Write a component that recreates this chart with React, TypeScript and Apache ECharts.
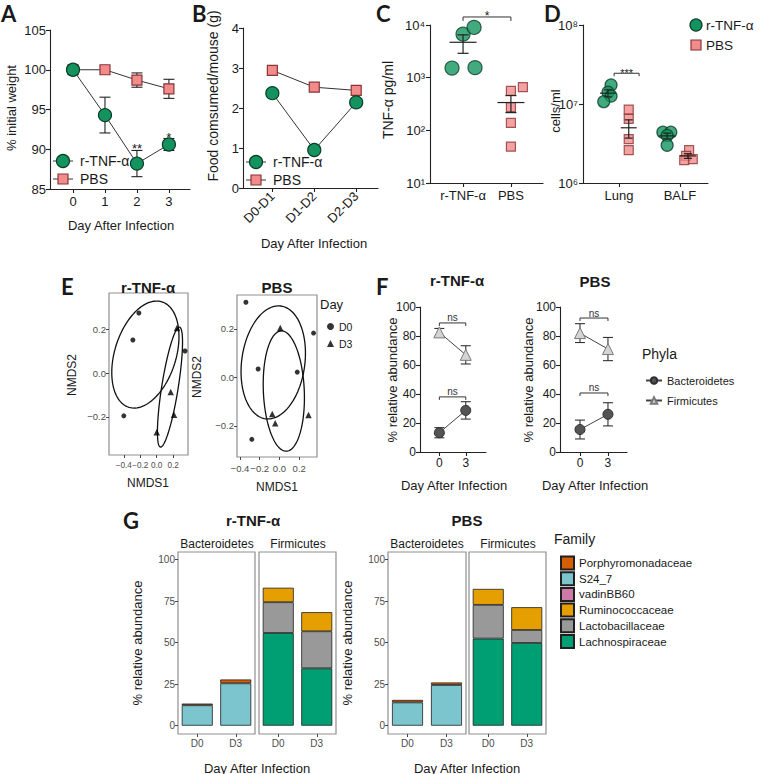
import React, { useEffect, useRef } from 'react';
import * as echarts from 'echarts';

const FONT = "'Liberation Sans', Arial, Helvetica, 'DejaVu Sans', sans-serif";
const LETTER_FONT = "Lato, 'Open Sans', sans-serif";
const GREEN = '#14935f';
const GREEN_EDGE = '#0a3d28';
const PINK = '#f28b8b';
const PINK_EDGE = '#8a3434';
const INK = '#1a1a1a';

// ---------- Panel A : % initial weight ----------
const aDays = [0, 1, 2, 3];
const aTnfMean = [100, 94.3, 88.2, 90.6];
const aTnfSem = [0, 2.25, 1.65, 0.75];
const aPbsMean = [100, 100, 98.7, 97.6];
const aPbsSem = [0, 0, 0.9, 1.2];
const aStars = ['', '', '**', '*'];

// ---------- Panel B : food consumed ----------
const bPeriods = ['D0-D1', 'D1-D2', 'D2-D3'];
const bTnf = [2.37, 0.95, 2.14];
const bPbs = [2.94, 2.52, 2.44];

// ---------- Panel C : TNF-a pg/ml ----------
const cGroups = ['r-TNF-α', 'PBS'];
const cTnfPoints = [[-0.23, 1520], [0.25, 1550], [0, 6700], [0.23, 9000]];
const cPbsPoints = [[1, 560], [1.25, 660], [1, 277], [1, 138], [1, 49]];
const cMeans = [4700, 337];
const cSems = [1800, 120];
const cSig = [[0, 1, 14200]];
const cSigLabels = ['*'];

// ---------- Panel D : cells/ml ----------
const dSites = ['Lung', 'BALF'];
const dTnfPoints = [[-0.13, 1.74e7], [-0.18, 1.41e7], [-0.13, 1.26e7], [-0.25, 1.07e7], [0.72, 4.4e6], [0.85, 4.4e6], [0.79, 4.0e6], [0.79, 3.0e6]];
const dPbsPoints = [[0.16, 8.5e6], [0.16, 6.5e6], [0.16, 3.6e6], [0.16, 2.6e6], [1.15, 2.6e6], [1.1, 2.2e6], [1.21, 2.0e6], [1.07, 1.95e6]];
const dTnfPos = [-0.18, 0.79];
const dTnfMeans = [1.37e7, 3.95e6];
const dTnfSems = [1.4e6, 3.3e5];
const dPbsPos = [0.16, 1.13];
const dPbsMeans = [5.0e6, 2.2e6];
const dPbsSems = [1.3e6, 1.5e5];
const dSig = [[-0.08, 0.33, 2.45e7]];
const dSigLabels = ['***'];

// ---------- Panel E : NMDS ----------
const eTnfD0 = [[-0.217, 0.273], [-0.29, 0.15], [0.344, 0.1], [-0.4, -0.195]];
const eTnfD3 = [[0.246, 0.205], [0.17, -0.086], [0.21, -0.19], [0.0, -0.27]];
const ePbsD0 = [[-0.34, 0.31], [0.345, 0.183], [-0.216, 0.035], [0.18, 0.022], [-0.28, -0.255]];
const ePbsD3 = [[0.008, 0.204], [-0.073, -0.151], [-0.043, -0.189], [0.294, -0.155]];
// ellipse: centre x, centre y, conjugate half-diameters u(x,y), v(x,y)
const eTnfEllipses = [[-0.138, 0.084, 0.2, 0.24, -0.356, 0.041], [0.161, -0.064, 0.116, 0.273, -0.099, 0.0058]];
const ePbsEllipses = [[-0.063, 0.062, 0.0765, 0.2326, -0.317, 0.0169], [0.044, -0.056, -0.0267, 0.248, -0.207, -0.0037]];
const eTicks = [-0.4, -0.2, 0, 0.2];
const eYTicks = [-0.2, 0, 0.2];

// ---------- Panel F : phyla ----------
const fDays = [0, 3];
const fTnfBact = [13.3, 28.7];
const fTnfBactSem = [3.5, 6];
const fTnfFirm = [82.5, 67];
const fTnfFirmSem = [2.7, 6.3];
const fPbsBact = [15.5, 26];
const fPbsBactSem = [6.5, 8];
const fPbsFirm = [82, 71];
const fPbsFirmSem = [6.5, 8];
const fTnfSig = [[0, 3, 89], [0, 3, 38]];
const fPbsSig = [[0, 3, 92.4], [0, 3, 40.7]];
const fSigLabels = ['ns', 'ns'];

// ---------- Panel G : family ----------
const gDays = ['D0', 'D3'];
const gFamilies = ['Porphyromonadaceae', 'S24_7', 'vadinBB60', 'Ruminococcaceae', 'Lactobacillaceae', 'Lachnospiraceae'];
const gColors = ['#d55e00', '#7cc5cf', '#cc79a7', '#e69f00', '#999999', '#009e73'];
const gTnfS24 = [12.3, 25.5];
const gTnfPorph = [1.0, 2.3];
const gTnfLachno = [55.8, 34.5];
const gTnfLacto = [18.5, 22.3];
const gTnfRumino = [8.7, 11.5];
const gPbsS24 = [14, 24.5];
const gPbsPorph = [1.5, 1.5];
const gPbsLachno = [52.4, 49.8];
const gPbsLacto = [20.3, 7.8];
const gPbsRumino = [9.6, 13.7];
const gVadin = [null, null];
const gYTicks = [0, 25, 50, 75, 100];

const SUP: Record<number, string> = { 0: '⁰', 1: '¹', 2: '²', 3: '³', 4: '⁴', 5: '⁵', 6: '⁶', 7: '⁷', 8: '⁸', 9: '⁹' };
const logFmt = (v: number) => '10' + SUP[Math.round(Math.log10(v))];
const ggNum = (v: number) => (v < -1e-9 ? '\u2212' : '') + Math.abs(v).toFixed(1);

const prismLine = { show: true, onZero: false, lineStyle: { color: '#222', width: 1.1 } };
const prismTick = (cv?: number[]) => ({ show: true, length: 4, lineStyle: { color: '#222', width: 1.1 }, ...(cv ? { customValues: cv } : {}) });
const prismLabel = (extra: any = {}) => ({ color: INK, fontSize: 13, fontFamily: FONT, margin: 5, ...extra });
const ggTick = (cv?: number[]) => ({ show: true, length: 3, lineStyle: { color: '#333', width: 0.9 }, ...(cv ? { customValues: cv } : {}) });
const ggLabel = (extra: any = {}) => ({ color: '#4d4d4d', fontSize: 9.5, fontFamily: FONT, margin: 3, hideOverlap: false, ...extra });
const noSplit = { show: false };

function errorBars(ai: number, data: number[][], cap: number, color = '#222', z = 1) {
  return {
    type: 'custom', xAxisIndex: ai, yAxisIndex: ai, data, silent: true, z,
    encode: { x: 0, y: [1, 2] },
    renderItem: (params: any, api: any) => {
      const x = api.value(0);
      const p1 = api.coord([x, api.value(1)]);
      const p2 = api.coord([x, api.value(2)]);
      const st = { stroke: color, lineWidth: 1.1 };
      return {
        type: 'group', children: [
          { type: 'line', shape: { x1: p1[0], y1: p1[1], x2: p2[0], y2: p2[1] }, style: st },
          { type: 'line', shape: { x1: p1[0] - cap, y1: p1[1], x2: p1[0] + cap, y2: p1[1] }, style: st },
          { type: 'line', shape: { x1: p2[0] - cap, y1: p2[1], x2: p2[0] + cap, y2: p2[1] }, style: st },
        ],
      };
    },
  };
}

function meanSem(ai: number, data: number[][], half: number, cap: number) {
  return {
    type: 'custom', xAxisIndex: ai, yAxisIndex: ai, data, silent: true, z: 6,
    encode: { x: 0, y: 1 },
    renderItem: (params: any, api: any) => {
      const x = api.value(0);
      const pm = api.coord([x, api.value(1)]);
      const pl = api.coord([x, api.value(2)]);
      const ph = api.coord([x, api.value(3)]);
      const st = { stroke: '#222', lineWidth: 1.2 };
      return {
        type: 'group', children: [
          { type: 'line', shape: { x1: pm[0] - half, y1: pm[1], x2: pm[0] + half, y2: pm[1] }, style: st },
          { type: 'line', shape: { x1: pl[0], y1: pl[1], x2: ph[0], y2: ph[1] }, style: st },
          { type: 'line', shape: { x1: pl[0] - cap, y1: pl[1], x2: pl[0] + cap, y2: pl[1] }, style: st },
          { type: 'line', shape: { x1: ph[0] - cap, y1: ph[1], x2: ph[0] + cap, y2: ph[1] }, style: st },
        ],
      };
    },
  };
}

function brackets(ai: number, data: number[][], labels: string[], o: any) {
  return {
    type: 'custom', xAxisIndex: ai, yAxisIndex: ai, data, silent: true, z: 6,
    encode: { x: 0, y: 2 },
    renderItem: (params: any, api: any) => {
      const y = api.value(2);
      const p1 = api.coord([api.value(0), y]);
      const p2 = api.coord([api.value(1), y]);
      const st = { stroke: o.color, lineWidth: o.lw };
      return {
        type: 'group', children: [
          { type: 'line', shape: { x1: p1[0], y1: p1[1], x2: p2[0], y2: p2[1] }, style: st },
          { type: 'line', shape: { x1: p1[0], y1: p1[1], x2: p1[0], y2: p1[1] + o.drop }, style: st },
          { type: 'line', shape: { x1: p2[0], y1: p2[1], x2: p2[0], y2: p2[1] + o.drop }, style: st },
          {
            type: 'text', x: (p1[0] + p2[0]) / 2, y: p1[1] - o.gap,
            style: { text: labels[params.dataIndex], fontSize: o.size, fontFamily: FONT, fill: o.textColor, textAlign: 'center', textVerticalAlign: 'bottom', align: 'center', verticalAlign: 'bottom' },
          },
        ],
      };
    },
  };
}

function starTexts(ai: number, data: number[][], labels: string[]) {
  return {
    type: 'custom', xAxisIndex: ai, yAxisIndex: ai, data, silent: true, z: 6,
    encode: { x: 0, y: 1 },
    renderItem: (params: any, api: any) => {
      const p = api.coord([api.value(0), api.value(1)]);
      return {
        type: 'text', x: p[0], y: p[1] + 5,
        style: { text: labels[params.dataIndex], fontSize: 13, fontFamily: FONT, fill: INK, textAlign: 'center', textVerticalAlign: 'bottom', align: 'center', verticalAlign: 'bottom' },
      };
    },
  };
}

// tick labels drawn at axis values (used where the axis would otherwise drop crowded labels)
function tickTexts(ai: number, values: number[], yValue: number, fmt: (v: number) => string, size: number) {
  return {
    type: 'custom', xAxisIndex: ai, yAxisIndex: ai, data: values.map((v) => [v, yValue]), silent: true, z: 6, clip: false,
    encode: { x: 0, y: 1 },
    renderItem: (params: any, api: any) => {
      const p = api.coord([api.value(0), api.value(1)]);
      return {
        type: 'text', x: p[0], y: p[1] + 6,
        style: { text: fmt(api.value(0)), fontSize: size, fontFamily: FONT, fill: '#4d4d4d', textAlign: 'center', textVerticalAlign: 'top', align: 'center', verticalAlign: 'top' },
      };
    },
  };
}

function ellipses(ai: number, data: number[][]) {
  return {
    type: 'custom', xAxisIndex: ai, yAxisIndex: ai, data, silent: true, z: 3,
    encode: { x: 0, y: 1 },
    renderItem: (params: any, api: any) => {
      const cx = api.value(0), cy = api.value(1), ux = api.value(2), uy = api.value(3), vx = api.value(4), vy = api.value(5);
      const pts: number[][] = [];
      const n = 120;
      for (let k = 0; k <= n; k++) {
        const t = (k / n) * Math.PI * 2;
        pts.push(api.coord([cx + ux * Math.cos(t) + vx * Math.sin(t), cy + uy * Math.cos(t) + vy * Math.sin(t)]));
      }
      return { type: 'polyline', shape: { points: pts }, style: { stroke: '#111', lineWidth: 1.3, fill: 'none' } };
    },
  };
}

function txt(text: string, x: number, y: number, size: number, o: any = {}) {
  return {
    type: 'text', x, y, rotation: o.rot ? Math.PI / 2 : 0, silent: true,
    style: {
      text, fontSize: size, fontFamily: o.font || FONT, fontWeight: o.bold ? 'bold' : 'normal', fill: o.color || INK,
      textAlign: o.align || 'center', textVerticalAlign: 'middle', align: o.align || 'center', verticalAlign: 'middle',
    },
  };
}

// small legend built from graphic primitives: marker (+ optional line) and label
function legendItem(kind: 'circle' | 'rect', cx: number, cy: number, size: number, withLine: boolean, label: string, textX: number, fontSize: number) {
  const fill = kind === 'circle' ? GREEN : PINK;
  const stroke = kind === 'circle' ? GREEN_EDGE : PINK_EDGE;
  const els: any[] = [];
  if (withLine) els.push({ type: 'line', silent: true, shape: { x1: cx - 10, y1: cy, x2: cx + 10, y2: cy }, style: { stroke: '#333', lineWidth: 1 } });
  if (kind === 'circle') els.push({ type: 'circle', silent: true, shape: { cx, cy, r: size / 2 }, style: { fill, stroke, lineWidth: 1.2 } });
  else els.push({ type: 'rect', silent: true, shape: { x: cx - size / 2, y: cy - size / 2, width: size, height: size }, style: { fill, stroke, lineWidth: 1.2 } });
  els.push(txt(label, textX, cy, fontSize, { align: 'left' }));
  return els;
}

function buildOption() {
  const ggGrid = { show: true, borderColor: '#8f8f8f', borderWidth: 1.2, backgroundColor: 'transparent', outerBoundsMode: 'none' };
  const pGrid = { outerBoundsMode: 'none' };
  const grid = [
    { left: 50, top: 30, width: 140, height: 159, ...pGrid },
    { left: 243, top: 28, width: 135, height: 160, ...pGrid },
    { left: 430, top: 25, width: 113, height: 158, ...pGrid },
    { left: 583, top: 25, width: 125, height: 158, ...pGrid },
    { left: 109, top: 293, width: 79, height: 162, ...ggGrid },
    { left: 237, top: 295, width: 80, height: 162, ...ggGrid },
    { left: 420, top: 307, width: 66, height: 145, ...pGrid },
    { left: 560, top: 307, width: 67, height: 145, ...pGrid },
    { left: 178, top: 552, width: 77, height: 182, ...ggGrid },
    { left: 259, top: 552, width: 77, height: 182, ...ggGrid },
    { left: 388, top: 552, width: 78, height: 182, ...ggGrid },
    { left: 469, top: 552, width: 77, height: 182, ...ggGrid },
  ];

  const xAxis: any[] = [
    { gridIndex: 0, type: 'value', min: -0.72, max: 3.66, axisLine: prismLine, axisTick: prismTick([0, 1, 2, 3]), axisLabel: prismLabel({ customValues: [0, 1, 2, 3], margin: 6 }), splitLine: noSplit },
    { gridIndex: 1, type: 'value', min: -0.7, max: 2.52, axisLine: prismLine, axisTick: prismTick([0, 1, 2]), axisLabel: prismLabel({ customValues: [0, 1, 2], rotate: 45, margin: 6, formatter: (v: number) => bPeriods[Math.round(v)] }), splitLine: noSplit },
    { gridIndex: 2, type: 'value', min: -0.69, max: 1.67, axisLine: prismLine, axisTick: prismTick([0, 1]), axisLabel: prismLabel({ customValues: [0, 1], margin: 6, formatter: (v: number) => cGroups[Math.round(v)] }), splitLine: noSplit },
    { gridIndex: 3, type: 'value', min: -0.59, max: 1.46, axisLine: prismLine, axisTick: prismTick([0, 1]), axisLabel: prismLabel({ customValues: [0, 1], margin: 6, formatter: (v: number) => dSites[Math.round(v)] }), splitLine: noSplit },
    { gridIndex: 4, type: 'value', min: -0.58, max: 0.38, axisLine: { show: false, onZero: false }, axisTick: ggTick(eTicks), axisLabel: { show: false }, splitLine: noSplit },
    { gridIndex: 5, type: 'value', min: -0.43, max: 0.38, axisLine: { show: false, onZero: false }, axisTick: ggTick(eTicks), axisLabel: { show: false }, splitLine: noSplit },
    { gridIndex: 6, type: 'value', min: -2.2, max: 5.3, axisLine: prismLine, axisTick: prismTick([0, 3]), axisLabel: prismLabel({ customValues: [0, 3], fontSize: 12 }), splitLine: noSplit },
    { gridIndex: 7, type: 'value', min: -2.14, max: 5.04, axisLine: prismLine, axisTick: prismTick([0, 3]), axisLabel: prismLabel({ customValues: [0, 3], fontSize: 12 }), splitLine: noSplit },
  ];
  for (let g = 8; g < 12; g++) {
    xAxis.push({
      gridIndex: g, type: 'category', data: gDays, boundaryGap: true,
      axisLine: { show: false, onZero: false },
      axisTick: { show: true, alignWithLabel: true, length: 3, lineStyle: { color: '#333', width: 0.9 } },
      axisLabel: ggLabel({ fontSize: 10, margin: 4 }), splitLine: noSplit,
    });
  }

  const yAxis: any[] = [
    { gridIndex: 0, type: 'value', min: 85, max: 105, interval: 5, axisLine: prismLine, axisTick: prismTick(), axisLabel: prismLabel({ margin: 4 }), splitLine: noSplit },
    { gridIndex: 1, type: 'value', min: 0, max: 4, interval: 1, axisLine: prismLine, axisTick: prismTick(), axisLabel: prismLabel({ margin: 4 }), splitLine: noSplit },
    { gridIndex: 2, type: 'log', logBase: 10, min: 10, max: 10000, axisLine: prismLine, axisTick: prismTick(), axisLabel: prismLabel({ margin: 5, formatter: logFmt }), splitLine: noSplit },
    { gridIndex: 3, type: 'log', logBase: 10, min: 1e6, max: 1e8, axisLine: prismLine, axisTick: prismTick(), axisLabel: prismLabel({ margin: 5, formatter: logFmt }), splitLine: noSplit },
    { gridIndex: 4, type: 'value', min: -0.373, max: 0.364, axisLine: { show: false, onZero: false }, axisTick: ggTick(eYTicks), axisLabel: ggLabel({ customValues: eYTicks, formatter: ggNum }), splitLine: noSplit },
    { gridIndex: 5, type: 'value', min: -0.328, max: 0.34, axisLine: { show: false, onZero: false }, axisTick: ggTick(eYTicks), axisLabel: ggLabel({ customValues: eYTicks, formatter: ggNum }), splitLine: noSplit },
    { gridIndex: 6, type: 'value', min: 0, max: 100, interval: 20, axisLine: prismLine, axisTick: prismTick(), axisLabel: prismLabel({ fontSize: 12, margin: 4 }), splitLine: noSplit },
    { gridIndex: 7, type: 'value', min: 0, max: 100, interval: 20, axisLine: prismLine, axisTick: prismTick(), axisLabel: prismLabel({ fontSize: 12, margin: 4 }), splitLine: noSplit },
  ];
  for (let g = 8; g < 12; g++) {
    const lab = g === 8 || g === 10;
    yAxis.push({
      gridIndex: g, type: 'value', min: -5, max: 104.5,
      axisLine: { show: false, onZero: false },
      axisTick: lab ? ggTick(gYTicks) : { show: false },
      axisLabel: lab ? ggLabel({ customValues: gYTicks, fontSize: 10 }) : { show: false },
      splitLine: noSplit,
    });
  }

  const green = { color: GREEN, borderColor: GREEN_EDGE, borderWidth: 1.2 };
  const pink = { color: PINK, borderColor: PINK_EDGE, borderWidth: 1.2 };
  const lineSt = { color: '#333', width: 1 };
  const series: any[] = [];

  // ---- A ----
  series.push({ type: 'line', name: 'r-TNF-α', xAxisIndex: 0, yAxisIndex: 0, data: aDays.map((d, i) => [d, aTnfMean[i]]), symbol: 'circle', symbolSize: 13, itemStyle: green, lineStyle: lineSt, z: 4 });
  series.push({ type: 'line', name: 'PBS', xAxisIndex: 0, yAxisIndex: 0, data: aDays.map((d, i) => [d, aPbsMean[i]]), symbol: 'rect', symbolSize: 10, itemStyle: pink, lineStyle: lineSt, z: 3 });
  series.push(errorBars(0, aDays.map((d, i) => [d, aTnfMean[i] - aTnfSem[i], aTnfMean[i] + aTnfSem[i]]).filter((_, i) => aTnfSem[i] > 0), 5.5));
  series.push(errorBars(0, aDays.map((d, i) => [d, aPbsMean[i] - aPbsSem[i], aPbsMean[i] + aPbsSem[i]]).filter((_, i) => aPbsSem[i] > 0), 5.5));
  const starIdx = aDays.map((_, i) => i).filter((i) => aStars[i] !== '');
  series.push(starTexts(0, starIdx.map((i) => [aDays[i], aTnfMean[i] + aTnfSem[i]]), starIdx.map((i) => aStars[i])));

  // ---- B ----
  series.push({ type: 'line', name: 'r-TNF-α', xAxisIndex: 1, yAxisIndex: 1, data: bTnf.map((v, i) => [i, v]), symbol: 'circle', symbolSize: 13, itemStyle: green, lineStyle: lineSt, z: 4 });
  series.push({ type: 'line', name: 'PBS', xAxisIndex: 1, yAxisIndex: 1, data: bPbs.map((v, i) => [i, v]), symbol: 'rect', symbolSize: 10, itemStyle: pink, lineStyle: lineSt, z: 3 });

  // ---- C ----
  series.push({ type: 'scatter', name: 'r-TNF-α', xAxisIndex: 2, yAxisIndex: 2, data: cTnfPoints, symbol: 'circle', symbolSize: 14, itemStyle: green, z: 3 });
  series.push({ type: 'scatter', name: 'PBS', xAxisIndex: 2, yAxisIndex: 2, data: cPbsPoints, symbol: 'rect', symbolSize: 9, itemStyle: pink, z: 3 });
  series.push(meanSem(2, cMeans.map((m, i) => [i, m, m - cSems[i], m + cSems[i]]), 13.5, 5.5));
  series.push(brackets(2, cSig, cSigLabels, { color: '#333', lw: 1, drop: 4, gap: -5, size: 12, textColor: INK }));

  // ---- D ----
  series.push({ type: 'scatter', name: 'r-TNF-α', xAxisIndex: 3, yAxisIndex: 3, data: dTnfPoints, symbol: 'circle', symbolSize: 12, itemStyle: green, z: 3 });
  series.push({ type: 'scatter', name: 'PBS', xAxisIndex: 3, yAxisIndex: 3, data: dPbsPoints, symbol: 'rect', symbolSize: 9, itemStyle: pink, z: 3 });
  series.push(meanSem(3, dTnfMeans.map((m, i) => [dTnfPos[i], m, m - dTnfSems[i], m + dTnfSems[i]]), 8, 4));
  series.push(meanSem(3, dPbsMeans.map((m, i) => [dPbsPos[i], m, m - dPbsSems[i], m + dPbsSems[i]]), 8, 4));
  series.push(brackets(3, dSig, dSigLabels, { color: '#333', lw: 1, drop: 3, gap: -5, size: 11, textColor: INK }));

  // ---- E ----
  const dot = { color: '#000' };
  series.push({ type: 'scatter', name: 'D0', xAxisIndex: 4, yAxisIndex: 4, data: eTnfD0, symbol: 'circle', symbolSize: 5, itemStyle: dot, z: 4 });
  series.push({ type: 'scatter', name: 'D3', xAxisIndex: 4, yAxisIndex: 4, data: eTnfD3, symbol: 'triangle', symbolSize: 6.5, itemStyle: dot, z: 4 });
  series.push(ellipses(4, eTnfEllipses));
  series.push(tickTexts(4, eTicks, -0.373, ggNum, 8.2));
  series.push({ type: 'scatter', name: 'D0', xAxisIndex: 5, yAxisIndex: 5, data: ePbsD0, symbol: 'circle', symbolSize: 5, itemStyle: dot, z: 4 });
  series.push({ type: 'scatter', name: 'D3', xAxisIndex: 5, yAxisIndex: 5, data: ePbsD3, symbol: 'triangle', symbolSize: 6.5, itemStyle: dot, z: 4 });
  series.push(ellipses(5, ePbsEllipses));
  series.push(tickTexts(5, eTicks, -0.328, ggNum, 9.5));

  // ---- F ----
  const bactSt = { color: '#545454', borderColor: '#2e2e2e', borderWidth: 1 };
  const firmSt = { color: '#d4d4d4', borderColor: '#7a7a7a', borderWidth: 1 };
  const fLine = { color: '#444', width: 1 };
  const fPanels = [
    { ai: 6, bact: fTnfBact, bs: fTnfBactSem, firm: fTnfFirm, fs: fTnfFirmSem, sig: fTnfSig },
    { ai: 7, bact: fPbsBact, bs: fPbsBactSem, firm: fPbsFirm, fs: fPbsFirmSem, sig: fPbsSig },
  ];
  fPanels.forEach((p) => {
    series.push(errorBars(p.ai, fDays.map((d, i) => [d, p.bact[i] - p.bs[i], p.bact[i] + p.bs[i]]), 5, '#333'));
    series.push(errorBars(p.ai, fDays.map((d, i) => [d, p.firm[i] - p.fs[i], p.firm[i] + p.fs[i]]), 5, '#333'));
    series.push({ type: 'line', name: 'Bacteroidetes', xAxisIndex: p.ai, yAxisIndex: p.ai, data: fDays.map((d, i) => [d, p.bact[i]]), symbol: 'circle', symbolSize: 10, itemStyle: bactSt, lineStyle: fLine, z: 3 });
    series.push({ type: 'line', name: 'Firmicutes', xAxisIndex: p.ai, yAxisIndex: p.ai, data: fDays.map((d, i) => [d, p.firm[i]]), symbol: 'triangle', symbolSize: 11, itemStyle: firmSt, lineStyle: fLine, z: 3 });
    series.push(brackets(p.ai, p.sig, fSigLabels, { color: '#333', lw: 1, drop: 3, gap: 0, size: 10, textColor: '#333' }));
  });

  // ---- G ----
  const colorOf = (name: string) => gColors[gFamilies.indexOf(name)];
  const bar = (ai: number, name: string, data: any[], stack: string) => ({
    type: 'bar', name, xAxisIndex: ai, yAxisIndex: ai, data, stack, barWidth: 31,
    itemStyle: { color: colorOf(name), borderColor: '#1f1f1f', borderWidth: 0.8 }, silent: true,
  });
  series.push(bar(8, 'S24_7', gTnfS24, 'glb'));
  series.push(bar(8, 'Porphyromonadaceae', gTnfPorph, 'glb'));
  series.push(bar(9, 'Lachnospiraceae', gTnfLachno, 'glf'));
  series.push(bar(9, 'Lactobacillaceae', gTnfLacto, 'glf'));
  series.push(bar(9, 'Ruminococcaceae', gTnfRumino, 'glf'));
  series.push(bar(9, 'vadinBB60', gVadin, 'glf'));
  series.push(bar(10, 'S24_7', gPbsS24, 'grb'));
  series.push(bar(10, 'Porphyromonadaceae', gPbsPorph, 'grb'));
  series.push(bar(11, 'Lachnospiraceae', gPbsLachno, 'grf'));
  series.push(bar(11, 'Lactobacillaceae', gPbsLacto, 'grf'));
  series.push(bar(11, 'Ruminococcaceae', gPbsRumino, 'grf'));

  const legTxt = (size: number) => ({ fontSize: size, fontFamily: FONT, color: INK });
  const legend: any[] = [
    { left: 322, top: 316, orient: 'vertical', itemWidth: 7, itemHeight: 7, itemGap: 6, selectedMode: false, data: [{ name: 'D0', icon: 'circle' }, { name: 'D3', icon: 'triangle' }], textStyle: legTxt(10.5) },
    { left: 640, top: 370, orient: 'vertical', itemWidth: 16, itemHeight: 8, itemGap: 9, selectedMode: false, data: ['Bacteroidetes', 'Firmicutes'], textStyle: legTxt(11) },
    { left: 555, top: 550.5, orient: 'vertical', itemWidth: 13, itemHeight: 13, itemGap: 0.7, selectedMode: false, data: gFamilies.map((n) => ({ name: n, icon: 'rect' })), textStyle: legTxt(11.5) },
  ];

  const graphic: any[] = [
    // panel letters
    txt('A', 1, 13, 22, { bold: true, font: LETTER_FONT, align: 'left' }),
    txt('B', 192, 13, 22, { bold: true, font: LETTER_FONT, align: 'left' }),
    txt('C', 376, 13, 22, { bold: true, font: LETTER_FONT, align: 'left' }),
    txt('D', 544, 13, 22, { bold: true, font: LETTER_FONT, align: 'left' }),
    txt('E', 61, 286, 22, { bold: true, font: LETTER_FONT, align: 'left' }),
    txt('F', 376, 286, 22, { bold: true, font: LETTER_FONT, align: 'left' }),
    txt('G', 123, 520, 22, { bold: true, font: LETTER_FONT, align: 'left' }),
    // legends A, B, D
    ...legendItem('circle', 63, 161, 13, true, 'r-TNF-α', 80, 14),
    ...legendItem('rect', 63, 179, 10, true, 'PBS', 80, 14),
    ...legendItem('circle', 256, 162, 13, true, 'r-TNF-α', 273, 14),
    ...legendItem('rect', 256, 180, 10, true, 'PBS', 273, 14),
    ...legendItem('circle', 696, 25, 12, false, 'r-TNF-α', 706, 13.5),
    ...legendItem('rect', 696, 45, 10, false, 'PBS', 706, 13.5),
    // panel titles
    txt('r-TNF-α', 148, 287, 15, { bold: true }),
    txt('PBS', 277, 287, 15, { bold: true }),
    txt('r-TNF-α', 457, 280, 15, { bold: true }),
    txt('PBS', 595, 281, 15, { bold: true }),
    txt('r-TNF-α', 253, 520, 15, { bold: true }),
    txt('PBS', 467, 520, 15, { bold: true }),
    // axis titles A-D
    txt('% initial weight', 11, 108, 13, { rot: true }),
    txt('Day After Infection', 121, 225, 13),
    txt('Food comsumed/mouse (g)', 213, 96, 14, { rot: true }),
    txt('Day After Infection', 314, 243, 13),
    txt('TNF-α pg/ml', 388, 100, 14, { rot: true }),
    txt('cells/ml', 555, 111, 13, { rot: true }),
    // E
    txt('NMDS2', 72, 375, 12, { rot: true }),
    txt('NMDS1', 148, 483, 12),
    txt('NMDS2', 197, 377, 12, { rot: true }),
    txt('NMDS1', 277, 487, 12),
    txt('Day', 320, 304, 13, { align: 'left' }),
    // F
    txt('% relative abundance', 392, 380, 13, { rot: true }),
    txt('% relative abundance', 528, 380, 13, { rot: true }),
    txt('Day After Infection', 454, 485, 13),
    txt('Day After Infection', 595, 485, 13),
    txt('Phyla', 642, 354, 14, { align: 'left' }),
    // G
    txt('Bacteroidetes', 217, 544, 12),
    txt('Firmicutes', 298, 544, 12),
    txt('Bacteroidetes', 427, 544, 12),
    txt('Firmicutes', 508, 544, 12),
    txt('% relative abundance', 137, 643, 13, { rot: true }),
    txt('% relative abundance', 347, 643, 13, { rot: true }),
    txt('Day After Infection', 257, 768, 13),
    txt('Day After Infection', 467, 768, 13),
    txt('Family', 554, 539, 14, { align: 'left' }),
  ];

  return {
    animation: false,
    backgroundColor: '#ffffff',
    textStyle: { fontFamily: FONT },
    grid, xAxis, yAxis, series, legend, graphic,
  };
}

export default function App() {
  const ref = useRef<HTMLDivElement>(null);
  useEffect(() => {
    document.body.style.margin = '0';
    const chart = echarts.init(ref.current as HTMLDivElement, undefined, { renderer: 'svg', width: 760, height: 774 });
    chart.setOption(buildOption() as any);
    return () => chart.dispose();
  }, []);
  return <div ref={ref} style={{ width: 760, height: 774, position: 'absolute', left: 0, top: 0, background: '#fff' }} />;
}
